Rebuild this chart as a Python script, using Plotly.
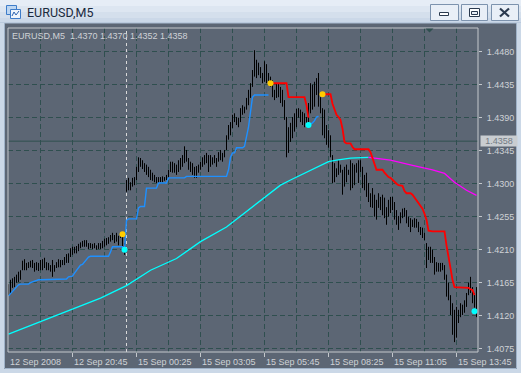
import plotly.graph_objects as go

# ---------------- data ----------------
symbol_title = "EURUSD,M5"
header_text = "EURUSD,M5\u00a0\u00a01.4370 1.4370 1.4352 1.4358"
current_price = 1.4358
separator_bar = 59

highs = [
    1.4163, 1.4169, 1.4171, 1.4173, 1.4176, 1.4180, 1.4182, 1.4195, 1.4197, 1.4192,
    1.4193, 1.4195, 1.4196, 1.4192, 1.4193, 1.4192, 1.4196, 1.4197, 1.4199, 1.4193,
    1.4192, 1.4189, 1.4196, 1.4189, 1.4193, 1.4197, 1.4196, 1.4196, 1.4200, 1.4204,
    1.4205, 1.4212, 1.4214, 1.4214, 1.4215, 1.4218, 1.4220, 1.4222, 1.4223, 1.4223,
    1.4219, 1.4219, 1.4218, 1.4219, 1.4216, 1.4219, 1.4219, 1.4222, 1.4225, 1.4226,
    1.4227, 1.4230, 1.4233, 1.4230, 1.4233, 1.4229, 1.4233, 1.4229, 1.4219, 1.4305,
    1.4308, 1.4302, 1.4308, 1.4309, 1.4323, 1.4336, 1.4335, 1.4332, 1.4328, 1.4326,
    1.4323, 1.4319, 1.4315, 1.4312, 1.4309, 1.4309, 1.4309, 1.4310, 1.4309, 1.4312,
    1.4319, 1.4330, 1.4330, 1.4328, 1.4326, 1.4332, 1.4335, 1.4339, 1.4351, 1.4346,
    1.4335, 1.4330, 1.4328, 1.4323, 1.4324, 1.4326, 1.4330, 1.4336, 1.4339, 1.4342,
    1.4339, 1.4339, 1.4336, 1.4339, 1.4335, 1.4343, 1.4346, 1.4342, 1.4346, 1.4366,
    1.4380, 1.4384, 1.4394, 1.4396, 1.4391, 1.4390, 1.4403, 1.4407, 1.4405, 1.4417,
    1.4428, 1.4437, 1.4455, 1.4482, 1.4469, 1.4465, 1.4459, 1.4451, 1.4467, 1.4463,
    1.4451, 1.4446, 1.4441, 1.4428, 1.4437, 1.4437, 1.4432, 1.4428, 1.4414, 1.4391,
    1.4377, 1.4383, 1.4391, 1.4396, 1.4402, 1.4403, 1.4401, 1.4398, 1.4396, 1.4391,
    1.4410, 1.4437, 1.4435, 1.4439, 1.4444, 1.4451, 1.4418, 1.4403, 1.4401, 1.4380,
    1.4373, 1.4366, 1.4339, 1.4328, 1.4321, 1.4332, 1.4326, 1.4319, 1.4323, 1.4326,
    1.4319, 1.4332, 1.4328, 1.4326, 1.4328, 1.4332, 1.4332, 1.4323, 1.4312, 1.4315,
    1.4301, 1.4287, 1.4294, 1.4285, 1.4278, 1.4287, 1.4282, 1.4285, 1.4281, 1.4268,
    1.4278, 1.4282, 1.4282, 1.4275, 1.4264, 1.4256, 1.4261, 1.4266, 1.4267, 1.4264,
    1.4255, 1.4253, 1.4251, 1.4253, 1.4252, 1.4248, 1.4241, 1.4240, 1.4233, 1.4219,
    1.4214, 1.4214, 1.4210, 1.4200, 1.4193, 1.4192, 1.4192, 1.4192, 1.4189, 1.4176,
    1.4165, 1.4148, 1.4137, 1.4128, 1.4132, 1.4128, 1.4137, 1.4135, 1.4141, 1.4151,
    1.4165, 1.4173, 1.4159, 1.4151, 1.4159,
]

lows = [
    1.4147, 1.4151, 1.4158, 1.4159, 1.4165, 1.4166, 1.4169, 1.4182, 1.4182, 1.4182,
    1.4185, 1.4186, 1.4185, 1.4180, 1.4182, 1.4181, 1.4182, 1.4182, 1.4185, 1.4182,
    1.4182, 1.4180, 1.4173, 1.4180, 1.4185, 1.4186, 1.4186, 1.4189, 1.4189, 1.4192,
    1.4192, 1.4200, 1.4203, 1.4205, 1.4205, 1.4208, 1.4212, 1.4214, 1.4214, 1.4214,
    1.4211, 1.4212, 1.4211, 1.4212, 1.4210, 1.4211, 1.4211, 1.4212, 1.4214, 1.4216,
    1.4218, 1.4221, 1.4223, 1.4219, 1.4221, 1.4216, 1.4226, 1.4214, 1.4203, 1.4289,
    1.4291, 1.4291, 1.4296, 1.4298, 1.4305, 1.4316, 1.4323, 1.4320, 1.4316, 1.4312,
    1.4309, 1.4305, 1.4304, 1.4302, 1.4301, 1.4301, 1.4302, 1.4302, 1.4304, 1.4305,
    1.4308, 1.4316, 1.4315, 1.4315, 1.4312, 1.4316, 1.4319, 1.4323, 1.4328, 1.4330,
    1.4319, 1.4316, 1.4312, 1.4308, 1.4308, 1.4315, 1.4319, 1.4323, 1.4326, 1.4328,
    1.4316, 1.4323, 1.4326, 1.4328, 1.4323, 1.4330, 1.4332, 1.4330, 1.4336, 1.4346,
    1.4360, 1.4366, 1.4376, 1.4384, 1.4380, 1.4377, 1.4384, 1.4394, 1.4396, 1.4401,
    1.4407, 1.4417, 1.4432, 1.4446, 1.4444, 1.4448, 1.4444, 1.4437, 1.4439, 1.4437,
    1.4437, 1.4432, 1.4418, 1.4414, 1.4417, 1.4418, 1.4410, 1.4405, 1.4387, 1.4336,
    1.4342, 1.4357, 1.4362, 1.4371, 1.4377, 1.4390, 1.4384, 1.4380, 1.4377, 1.4383,
    1.4380, 1.4396, 1.4401, 1.4405, 1.4421, 1.4405, 1.4396, 1.4366, 1.4362, 1.4353,
    1.4349, 1.4336, 1.4301, 1.4302, 1.4309, 1.4312, 1.4315, 1.4285, 1.4296, 1.4302,
    1.4312, 1.4291, 1.4294, 1.4298, 1.4315, 1.4301, 1.4316, 1.4294, 1.4291, 1.4282,
    1.4275, 1.4268, 1.4267, 1.4255, 1.4251, 1.4267, 1.4264, 1.4257, 1.4253, 1.4244,
    1.4255, 1.4260, 1.4264, 1.4251, 1.4244, 1.4237, 1.4246, 1.4253, 1.4255, 1.4246,
    1.4241, 1.4234, 1.4241, 1.4240, 1.4240, 1.4234, 1.4230, 1.4226, 1.4223, 1.4185,
    1.4196, 1.4192, 1.4192, 1.4176, 1.4180, 1.4180, 1.4180, 1.4182, 1.4169, 1.4146,
    1.4141, 1.4121, 1.4094, 1.4084, 1.4090, 1.4110, 1.4118, 1.4121, 1.4124, 1.4132,
    1.4148, 1.4151, 1.4137, 1.4131, 1.4118,
]

# trailing line below price (blue), two pieces
blue_a_start = 0
blue_a = [
    1.4147, 1.4150, 1.4152, 1.4156, 1.4159, 1.4162, 1.4163, 1.4163, 1.4163, 1.4163,
    1.4163, 1.4165, 1.4166, 1.4167, 1.4169, 1.4169, 1.4169, 1.4169, 1.4169, 1.4169,
    1.4169, 1.4169, 1.4169, 1.4169, 1.4169, 1.4169, 1.4169, 1.4169, 1.4169, 1.4170,
    1.4173, 1.4173, 1.4174, 1.4178, 1.4182, 1.4186, 1.4189, 1.4190, 1.4193, 1.4197,
    1.4200, 1.4201, 1.4201, 1.4201, 1.4201, 1.4201, 1.4201, 1.4201, 1.4201, 1.4201,
    1.4201, 1.4207, 1.4214, 1.4214, 1.4214, 1.4214, 1.4214, 1.4214, 1.4210, 1.4250,
    1.4252, 1.4252, 1.4252, 1.4252, 1.4252, 1.4267, 1.4269, 1.4269, 1.4269, 1.4294,
    1.4294, 1.4294, 1.4294, 1.4294, 1.4294, 1.4301, 1.4301, 1.4301, 1.4301, 1.4301,
    1.4308, 1.4308, 1.4308, 1.4308, 1.4308, 1.4308, 1.4308, 1.4308, 1.4308, 1.4310,
    1.4310, 1.4310, 1.4310, 1.4310, 1.4310, 1.4310, 1.4310, 1.4310, 1.4310, 1.4310,
    1.4310, 1.4310, 1.4310, 1.4310, 1.4310, 1.4310, 1.4310, 1.4310, 1.4310, 1.4310,
    1.4319, 1.4336, 1.4342, 1.4342, 1.4349, 1.4349, 1.4349, 1.4349, 1.4351, 1.4366,
    1.4377, 1.4398, 1.4418, 1.4421, 1.4421, 1.4421, 1.4421, 1.4421, 1.4421, 1.4421,
    1.4421,
]
blue_b_start = 150
blue_b = [1.4380, 1.4381, 1.4383, 1.4386, 1.4391, 1.4392]

# trailing line above price (red), two pieces
red_a_start = 131
red_a = [
    1.4437, 1.4437, 1.4437, 1.4437, 1.4437, 1.4437, 1.4437, 1.4437, 1.4437, 1.4418,
    1.4418, 1.4418, 1.4418, 1.4418, 1.4418, 1.4418, 1.4418, 1.4418, 1.4407, 1.4390,
]
red_b_start = 157
red_b = [
    1.4422, 1.4422, 1.4422, 1.4422, 1.4422, 1.4409, 1.4402, 1.4394, 1.4391, 1.4387,
    1.4375, 1.4357, 1.4355, 1.4355, 1.4355, 1.4350, 1.4347, 1.4347, 1.4347, 1.4347,
    1.4347, 1.4347, 1.4347, 1.4347, 1.4343, 1.4335, 1.4325, 1.4319, 1.4319, 1.4319,
    1.4319, 1.4315, 1.4312, 1.4309, 1.4308, 1.4305, 1.4302, 1.4300, 1.4298, 1.4297,
    1.4297, 1.4290, 1.4287, 1.4287, 1.4287, 1.4285, 1.4281, 1.4278, 1.4274, 1.4270,
    1.4266, 1.4259, 1.4251, 1.4236, 1.4235, 1.4235, 1.4235, 1.4235, 1.4235, 1.4235,
    1.4235, 1.4235, 1.4216, 1.4199, 1.4186, 1.4169, 1.4159, 1.4159, 1.4159, 1.4159,
    1.4159, 1.4159, 1.4159, 1.4158, 1.4156, 1.4155, 1.4148,
]

# moving average: rising part (cyan) and falling part (magenta)
ma_up_bar = [0, 16, 29, 46, 59, 71, 84, 96, 109, 119, 126, 136, 141, 150, 160, 164, 171, 180]
ma_up_val = [1.4095, 1.4112, 1.4126, 1.4144, 1.4161, 1.4182, 1.4198, 1.4221, 1.4241, 1.4262,
             1.4277, 1.4298, 1.4305, 1.4317, 1.4330, 1.4332, 1.4335, 1.4336]
ma_dn_bar = [180, 191, 202, 212, 218, 223, 229, 234]
ma_dn_val = [1.4336, 1.4332, 1.4325, 1.4319, 1.4314, 1.4302, 1.4291, 1.4284]

# signal dots
sig_yellow_bar = [57, 131, 157]
sig_yellow_val = [1.4231, 1.4437, 1.4422]
sig_cyan_bar = [58, 150, 233]
sig_cyan_val = [1.4210, 1.4380, 1.4126]

# axes
price_ticks = [1.4075, 1.4120, 1.4165, 1.4210, 1.4255, 1.4300, 1.4345, 1.4390, 1.4435, 1.4480]
time_tick_bar = [0, 32, 64, 96, 128, 160, 192, 224]
time_tick_text = ["12 Sep 2008", "12 Sep 20:45", "15 Sep 00:25", "15 Sep 03:05",
                  "15 Sep 05:45", "15 Sep 08:25", "15 Sep 11:05", "15 Sep 13:45"]

# ---------------- styling / layout ----------------
W, H = 521, 373
L, R, T, B = 8, 43, 28, 21
PW, PH = W - L - R, H - T - B
BG = "#5c6674"
GRID = "#2f4f4f"
TXT = "#cfd2d6"
FONT = "Liberation Sans"


def xp(p):
    return (p - L) / PW


def yp(p):
    return (H - B - p) / PH


fig = go.Figure()

# price bars as high-low vertical strokes
bx, by = [], []
for i, (h, lo) in enumerate(zip(highs, lows)):
    bx += [i, i, None]
    by += [lo, h, None]
fig.add_trace(go.Scatter(x=bx, y=by, mode="lines", line=dict(color="#000000", width=1),
                         hoverinfo="skip", showlegend=False))

# moving average
fig.add_trace(go.Scatter(x=ma_up_bar, y=ma_up_val, mode="lines",
                         line=dict(color="#00ffff", width=1.3), hoverinfo="skip", showlegend=False))
fig.add_trace(go.Scatter(x=ma_dn_bar, y=ma_dn_val, mode="lines",
                         line=dict(color="#ff00ff", width=1.3), hoverinfo="skip", showlegend=False))

# trailing lines
for start, vals, col, wd in [(blue_a_start, blue_a, "#1e90ff", 1.4),
                             (blue_b_start, blue_b, "#1e90ff", 1.4),
                             (red_a_start, red_a, "#ff0000", 1.8),
                             (red_b_start, red_b, "#ff0000", 1.8)]:
    fig.add_trace(go.Scatter(x=list(range(start, start + len(vals))), y=vals, mode="lines",
                             line=dict(color=col, width=wd), hoverinfo="skip", showlegend=False))

# signal dots
fig.add_trace(go.Scatter(x=sig_yellow_bar, y=sig_yellow_val, mode="markers",
                         marker=dict(size=6, color="#ffcc00", line=dict(width=0)),
                         hoverinfo="skip", showlegend=False, cliponaxis=False))
fig.add_trace(go.Scatter(x=sig_cyan_bar, y=sig_cyan_val, mode="markers",
                         marker=dict(size=6, color="#00ffff", line=dict(width=0)),
                         hoverinfo="skip", showlegend=False, cliponaxis=False))

shapes = []
# current price line
shapes.append(dict(type="line", xref="paper", yref="y", x0=0, x1=1, y0=current_price, y1=current_price,
                   line=dict(color=GRID, width=1), layer="below"))
# day separator
shapes.append(dict(type="line", xref="x", yref="paper", x0=separator_bar, x1=separator_bar, y0=0, y1=1,
                   line=dict(color="#d8d8d8", width=1, dash="3px,3px"), layer="below"))
# chart frame
shapes.append(dict(type="rect", xref="paper", yref="paper", x0=0, x1=1, y0=0, y1=1,
                   line=dict(color="#c4c8cc", width=1), layer="above"))
# shift marker triangle
shapes.append(dict(type="path", xref="paper", yref="paper",
                   path=f"M {xp(425.5)} {yp(28.5)} L {xp(433.5)} {yp(28.5)} L {xp(429.5)} {yp(32.5)} Z",
                   fillcolor=GRID, line=dict(width=0), layer="above"))

# window chrome: title bar bands and borders
bands = [(0, 6, "#e6edf6"), (6, 12, "#dde6f1"), (12, 18, "#d4dfec"), (18, 23, "#cbd8e8")]
for y0, y1, c in bands:
    shapes.append(dict(type="rect", xref="paper", yref="paper", x0=xp(0), x1=xp(W),
                       y0=yp(y1), y1=yp(y0), fillcolor=c, line=dict(width=0), layer="above"))
shapes.append(dict(type="line", xref="paper", yref="paper", x0=xp(0), x1=xp(W), y0=yp(23), y1=yp(23),
                   line=dict(color="#a9bcd2", width=1), layer="above"))
for x0, x1, y0, y1 in [(0, 4, 23, H), (517, W, 23, H), (0, W, 369, H)]:
    shapes.append(dict(type="rect", xref="paper", yref="paper", x0=xp(x0), x1=xp(x1),
                       y0=yp(y1), y1=yp(y0), fillcolor="#cbd8e7", line=dict(width=0), layer="above"))
shapes.append(dict(type="line", xref="paper", yref="paper", x0=xp(4.5), x1=xp(4.5), y0=yp(368.5), y1=yp(23),
                   line=dict(color="#9fb2c8", width=1), layer="above"))
shapes.append(dict(type="line", xref="paper", yref="paper", x0=xp(516.5), x1=xp(516.5), y0=yp(368.5), y1=yp(23),
                   line=dict(color="#9fb2c8", width=1), layer="above"))
shapes.append(dict(type="line", xref="paper", yref="paper", x0=xp(4.5), x1=xp(516.5), y0=yp(368.5), y1=yp(368.5),
                   line=dict(color="#9fb2c8", width=1), layer="above"))

# title icon
shapes.append(dict(type="rect", xref="paper", yref="paper", x0=xp(6.5), x1=xp(16.5), y0=yp(14.5), y1=yp(5.5),
                   fillcolor="#bcd6f2", line=dict(color="#3d7cc9", width=1), layer="above"))
shapes.append(dict(type="rect", xref="paper", yref="paper", x0=xp(10.5), x1=xp(20.5), y0=yp(18.5), y1=yp(9.5),
                   fillcolor="#eef5fc", line=dict(color="#3d7cc9", width=1), layer="above"))
shapes.append(dict(type="path", xref="paper", yref="paper",
                   path=f"M {xp(12)} {yp(16)} L {xp(14)} {yp(12)} L {xp(16)} {yp(15)} L {xp(19)} {yp(11)}",
                   line=dict(color="#2a62b0", width=1), layer="above"))

# window buttons
for x0, x1 in [(430.5, 458.5), (461.5, 487.5), (491.5, 518.5)]:
    shapes.append(dict(type="rect", xref="paper", yref="paper", x0=xp(x0), x1=xp(x1), y0=yp(20.5), y1=yp(4.5),
                       fillcolor="#e9eff7", line=dict(color="#7d93ae", width=1), layer="above"))
shapes.append(dict(type="rect", xref="paper", yref="paper", x0=xp(439.5), x1=xp(448.5), y0=yp(15.5), y1=yp(12.5),
                   fillcolor="#ffffff", line=dict(color="#2b3a4f", width=1), layer="above"))
shapes.append(dict(type="rect", xref="paper", yref="paper", x0=xp(469.5), x1=xp(479.5), y0=yp(16.5), y1=yp(8.5),
                   fillcolor="#ffffff", line=dict(color="#2b3a4f", width=1), layer="above"))
shapes.append(dict(type="rect", xref="paper", yref="paper", x0=xp(471.5), x1=xp(477.5), y0=yp(14.5), y1=yp(11.5),
                   fillcolor="#e9eff7", line=dict(color="#2b3a4f", width=1), layer="above"))
shapes.append(dict(type="line", xref="paper", yref="paper", x0=xp(500), x1=xp(509), y0=yp(8.5), y1=yp(16.5),
                   line=dict(color="#2b3a4f", width=2.2), layer="above"))
shapes.append(dict(type="line", xref="paper", yref="paper", x0=xp(500), x1=xp(509), y0=yp(16.5), y1=yp(8.5),
                   line=dict(color="#2b3a4f", width=2.2), layer="above"))

annotations = []
annotations.append(dict(text=symbol_title, xref="paper", yref="paper", x=xp(25), y=yp(12.5),
                        xanchor="left", yanchor="middle", showarrow=False,
                        font=dict(family="Roboto", size=12.5, color="#1b2a3e")))
annotations.append(dict(text=header_text, xref="paper", yref="paper", x=xp(10), y=yp(35.5),
                        xanchor="left", yanchor="middle", showarrow=False,
                        font=dict(family=FONT, size=9, color=TXT)))
for b, t in zip(time_tick_bar, time_tick_text):
    annotations.append(dict(text=t, xref="x", yref="paper", x=b, y=yp(362), xanchor="left",
                            yanchor="middle", showarrow=False, xshift=-1,
                            font=dict(family=FONT, size=9, color=TXT)))
annotations.append(dict(text=f"{current_price:.4f}", xref="paper", yref="y", x=xp(480), y=current_price,
                        xanchor="left", yanchor="middle", showarrow=False, width=36, height=10,
                        borderpad=0, bgcolor="#c9cdd1",
                        font=dict(family=FONT, size=9, color="#737b84")))

fig.update_layout(
    width=W, height=H,
    margin=dict(l=L, r=R, t=T, b=B, pad=0),
    paper_bgcolor=BG, plot_bgcolor=BG,
    showlegend=False,
    hovermode=False,
    shapes=shapes,
    annotations=annotations,
    xaxis=dict(range=[-0.25, len(highs) - 0.25], fixedrange=True,
               tickmode="array", tickvals=time_tick_bar[1:], showticklabels=False,
               ticks="outside", ticklen=4, tickcolor="#c4c8cc", tickwidth=1,
               showgrid=True, gridcolor=GRID, gridwidth=1, griddash="5px,3px",
               minor=dict(tickmode="array", tickvals=[b + 16 for b in time_tick_bar],
                          showgrid=True, gridcolor=GRID, gridwidth=1, griddash="5px,3px", ticks=""),
               zeroline=False, showline=False),
    yaxis=dict(range=[1.40705, 1.451232], side="right", fixedrange=True,
               tickmode="array", tickvals=price_ticks, ticktext=[f"{v:.4f}" for v in price_ticks],
               ticks="outside", ticklen=3, tickcolor="#c4c8cc", tickwidth=1,
               ticklabelstandoff=3,
               tickfont=dict(family=FONT, size=9, color=TXT),
               showgrid=True, gridcolor=GRID, gridwidth=1, griddash="5px,3px",
               zeroline=False, showline=False),
)

fig.write_html("out.html", config={"displayModeBar": False},
               post_script="document.body.style.margin='0px';document.body.style.overflow='hidden';")
